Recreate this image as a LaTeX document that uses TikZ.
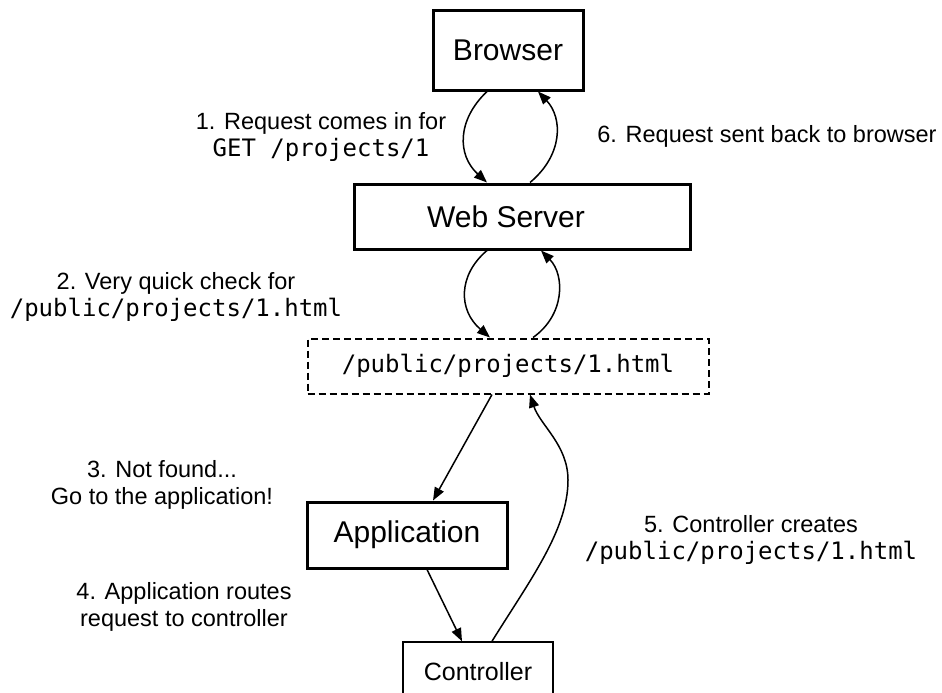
\documentclass[tikz,border=0pt]{standalone}
\usepackage{fontspec}
\setmainfont{Liberation Sans}
\setmonofont{DejaVu Sans Mono}
\usetikzlibrary{arrows.meta}
\tikzset{
  bigbox/.style={draw, line width=3pt, inner sep=0pt, font=\fontsize{30}{36}\selectfont},
  dashbox/.style={draw, line width=2pt, dash pattern=on 7pt off 4pt, inner sep=0pt, font=\ttfamily\fontsize{24}{28}\selectfont},
  smallbox/.style={draw, line width=1.5pt, inner sep=0pt, font=\fontsize{25}{30}\selectfont},
  lbl/.style={align=center, inner sep=0pt, font=\fontsize{23.5}{27}\selectfont},
  arr/.style={line width=1.5pt, -{Triangle[length=13pt,width=10pt]}}
}
\newcommand{\mytt}[1]{{\ttfamily\fontsize{24}{27}\selectfont #1}}
\begin{document}
\begin{tikzpicture}[x=1pt,y=-1pt]
\useasboundingbox (0,0) rectangle (942,693);
\fill[white] (0,0) rectangle (942,693);

\node[bigbox, minimum width=150pt, minimum height=79pt] (b) at (508,50.5) {Browser};
\node[bigbox, minimum width=336pt, minimum height=65pt] (ws) at (522,216.5) {\hspace*{-32pt}Web Server};
\node[dashbox, minimum width=401pt, minimum height=55pt] (d) at (508,366) {/public/projects/1.html};
\node[bigbox, minimum width=200pt, minimum height=66pt] (a) at (407,535) {Application};
\node[smallbox, minimum width=150pt, minimum height=60pt] (c) at (478,672) {Controller};

\coordinate (p5) at (568,480);

\draw[arr] ([xshift=-21pt]b.south) .. controls (457,120) and (457,155) .. ([xshift=-35pt]ws.north);
\draw[arr] ([xshift=8pt]ws.north) .. controls (563,155) and (563,118) .. ([xshift=30pt]b.south);
\draw[arr] ([xshift=-35pt]ws.south) .. controls (458,275) and (458,310) .. ([xshift=-18pt]d.north);
\draw[arr] ([xshift=25pt]d.north) .. controls (565,315) and (565,275) .. ([xshift=19pt]ws.south);
\draw[arr] ([xshift=-16pt]d.south) -- ([xshift=26pt]a.north);
\draw[arr] ([xshift=20pt]a.south) -- ([xshift=-16pt]c.north);
\draw[arr] ([xshift=14pt]c.north) .. controls (530,580) and (568,530) .. (p5) .. controls (568,445) and (540,425) .. ([xshift=22pt]d.south);

\node[lbl] (l1) at (321,137) {1. Request comes in for\\\mytt{GET /projects/1}};
\node[lbl] (l6) at (767,136) {6. Request sent back to browser};
\node[lbl] (l2) at (176,297) {2. Very quick check for\\\mytt{/public/projects/1.html}};
\node[lbl] (l3) at (162,485) {3. Not found...\\Go to the application!};
\node[lbl] (l4) at (184,607) {4. Application routes\\request to controller};
\node[lbl] (l5) at (751,540) {5. Controller creates\\\mytt{/public/projects/1.html}};
\end{tikzpicture}
\end{document}
